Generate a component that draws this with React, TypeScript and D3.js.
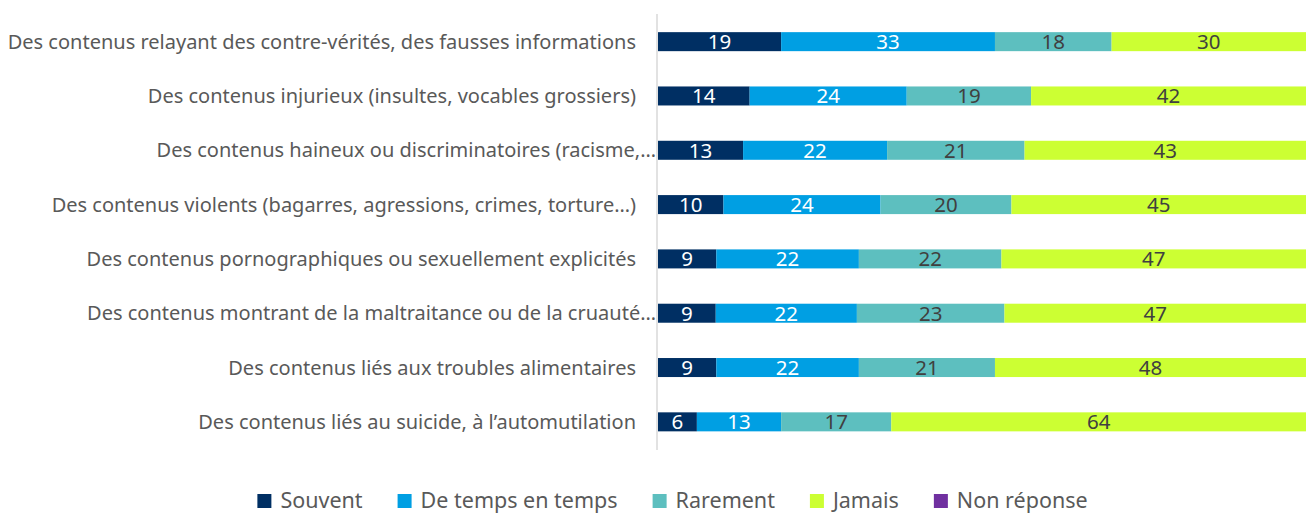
import React, { useEffect, useRef } from "react";
import * as d3 from "d3";

const categories = [
  "Des contenus relayant des contre-vérités, des fausses informations",
  "Des contenus injurieux (insultes, vocables grossiers)",
  "Des contenus haineux ou discriminatoires (racisme,…",
  "Des contenus violents (bagarres, agressions, crimes, torture…)",
  "Des contenus pornographiques ou sexuellement explicités",
  "Des contenus montrant de la maltraitance ou de la cruauté…",
  "Des contenus liés aux troubles alimentaires",
  "Des contenus liés au suicide, à l’automutilation",
];

const seriesNames = ["Souvent", "De temps en temps", "Rarement", "Jamais", "Non réponse"];
const souvent = [19, 14, 13, 10, 9, 9, 9, 6];
const deTemps = [33, 24, 22, 24, 22, 22, 22, 13];
const rarement = [18, 19, 21, 20, 22, 23, 21, 17];
const jamais = [30, 42, 43, 45, 47, 47, 48, 64];
const nonReponse = [0, 0, 0, 0, 0, 0, 0, 0];

const colors = ["#002F63", "#009FE3", "#5DBFBF", "#CCFF33", "#7030A0"];
const labelColors = ["#ffffff", "#ffffff", "#404040", "#404040", "#ffffff"];

const W = 1306;
const H = 514;
const FONT = "'Noto Sans', sans-serif";

export default function App() {
  const ref = useRef<SVGSVGElement>(null);

  useEffect(() => {
    const svg = d3.select(ref.current);
    svg.selectAll("*").remove();

    const rows = categories.map((c, i) => ({
      cat: c,
      [seriesNames[0]]: souvent[i],
      [seriesNames[1]]: deTemps[i],
      [seriesNames[2]]: rarement[i],
      [seriesNames[3]]: jamais[i],
      [seriesNames[4]]: nonReponse[i],
    })) as any[];

    const stack = d3.stack<any>().keys(seriesNames).offset(d3.stackOffsetExpand);
    const layers = stack(rows);

    const x0 = 658;
    const x = d3.scaleLinear().domain([0, 1]).range([x0, W]);
    const y = d3
      .scaleBand<string>()
      .domain(categories)
      .range([14.5, 449])
      .paddingInner(0.65)
      .paddingOuter(0.325);

    const g = svg.append("g");

    layers.forEach((layer, si) => {
      const lg = g.append("g");
      layer.forEach((d, i) => {
        const w = x(d[1]) - x(d[0]);
        if (w <= 0) return;
        lg.append("rect")
          .attr("x", x(d[0]))
          .attr("y", y(categories[i])!)
          .attr("width", w)
          .attr("height", y.bandwidth())
          .attr("fill", colors[si]);
        lg.append("text")
          .attr("x", (x(d[0]) + x(d[1])) / 2)
          .attr("y", y(categories[i])! + y.bandwidth() / 2)
          .attr("dy", "0.36em")
          .attr("text-anchor", "middle")
          .attr("font-family", FONT)
          .attr("font-size", 20.5)
          .attr("fill", labelColors[si])
          .text((rows[i] as any)[seriesNames[si]]);
      });
    });

    // axis line
    g.append("line")
      .attr("x1", x0 - 1)
      .attr("x2", x0 - 1)
      .attr("y1", 14)
      .attr("y2", 450)
      .attr("stroke", "#d9d9d9")
      .attr("stroke-width", 1.5);

    // category labels
    categories.forEach((c) => {
      const truncated = c.endsWith("…") && !c.endsWith("…)");
      g.append("text")
        .attr("x", truncated ? x0 - 2 : x0 - 22)
        .attr("y", y(c)! + y.bandwidth() / 2)
        .attr("dy", "0.36em")
        .attr("text-anchor", "end")
        .attr("font-family", FONT)
        .attr("font-size", 20)
        .attr("fill", "#595959")
        .text(c);
    });

    // legend
    const leg = svg.append("g");
    let cx = 0;
    seriesNames.forEach((s, i) => {
      const it = leg.append("g").attr("transform", `translate(${cx},0)`);
      it.append("rect").attr("x", 0).attr("y", 494).attr("width", 14).attr("height", 14).attr("fill", colors[i]);
      const t = it
        .append("text")
        .attr("x", 23)
        .attr("y", 508)
        .attr("font-family", FONT)
        .attr("font-size", 21.5)
        .attr("fill", "#595959")
        .text(s);
      const tw = (t.node() as SVGTextElement).getComputedTextLength();
      cx += 23 + tw + 35;
    });
    const total = cx - 35;
    leg.attr("transform", `translate(${672.5 - total / 2},0)`);
  }, []);

  return <svg ref={ref} width={W} height={H} style={{ display: "block", position: "absolute", left: 0, top: 0 }} />;
}
